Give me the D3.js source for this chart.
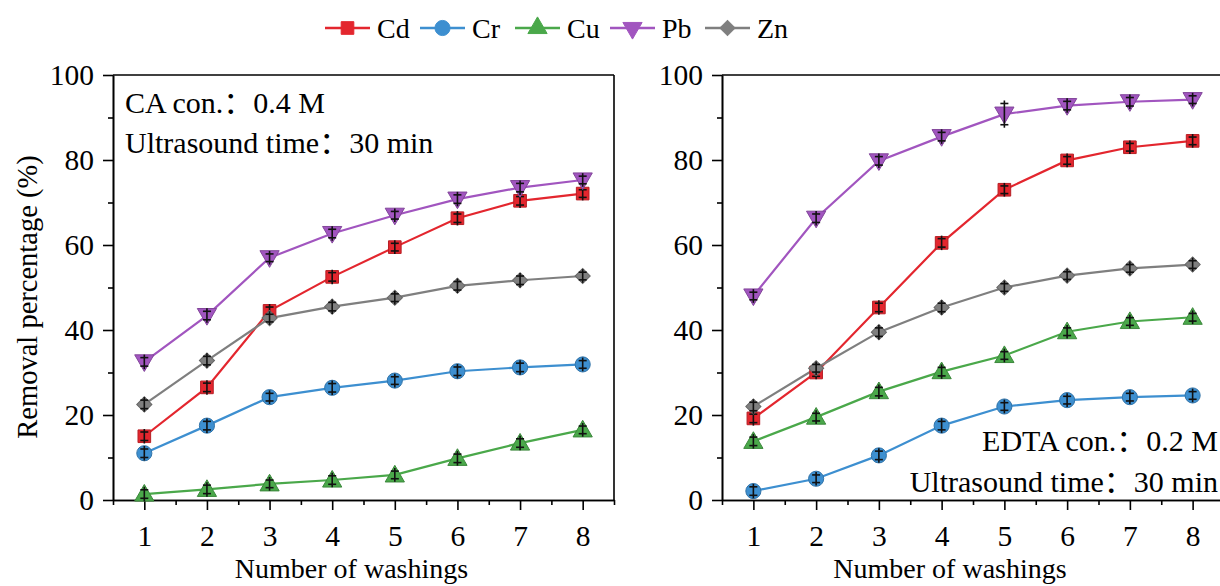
<!DOCTYPE html>
<html>
<head>
<meta charset="utf-8">
<script src="https://cdn.jsdelivr.net/npm/d3@7"></script>
<style>
  body { margin: 0; background: #fff; }
  text { font-family: "Liberation Serif", "Noto Sans CJK SC", serif; fill: #000; }
</style>
</head>
<body>
<svg id="chart" width="1220" height="586"></svg>
<script>
// washings on x axis
var washings = [1, 2, 3, 4, 5, 6, 7, 8];
var metals = ["Cd", "Cr", "Cu", "Pb", "Zn"];
var colors = ["#e3262e", "#3d8fd0", "#4aa84a", "#a155bf", "#7f7f7f"];
var yTicks = [0, 20, 40, 60, 80, 100];

// CA washing (left)
var caCd = [15.0, 26.5, 44.5, 52.5, 59.5, 66.3, 70.4, 72.1];
var caCr = [11.0, 17.5, 24.2, 26.4, 28.1, 30.3, 31.2, 31.9];
var caCu = [1.4, 2.5, 3.8, 4.7, 5.9, 9.8, 13.4, 16.5];
var caPb = [32.5, 43.4, 57.0, 62.7, 67.0, 70.8, 73.5, 75.3];
var caZn = [22.5, 32.8, 42.8, 45.5, 47.6, 50.4, 51.7, 52.7];
var caErr = [1.0, 1.0, 0.9, 1.0, 0.9, 1.0, 1.0, 0.9];

// EDTA washing (right)
var edCd = [19.2, 30.0, 45.3, 60.5, 73.0, 79.9, 83.0, 84.5];
var edCr = [2.1, 5.0, 10.5, 17.5, 22.0, 23.5, 24.2, 24.6];
var edCu = [13.8, 19.5, 25.5, 30.2, 34.0, 39.6, 42.0, 43.0];
var edPb = [48.0, 66.3, 79.8, 85.5, 90.8, 92.8, 93.7, 94.2];
var edZn = [22.0, 31.0, 39.5, 45.3, 50.0, 52.8, 54.5, 55.4];
var edErr = [1.0, 0.9, 1.0, 1.0, 0.9, 0.9, 0.9, 0.9];
var edPbErr = [0.9, 1.0, 1.0, 1.0, 2.5, 1.0, 1.0, 0.9];

var svg = d3.select("#chart");
var height = { top: 75, bottom: 500 };

var panels = [
  { left: 113, right: 614, series: [caCd, caCr, caCu, caPb, caZn],
    errs: [caErr, caErr, caErr, caErr, caErr],
    notes: ["CA con.\uff1a0.4 M", "Ultrasound time\uff1a30 min"], noteAnchor: "start" },
  { left: 722, right: 1224, series: [edCd, edCr, edCu, edPb, edZn],
    errs: [edErr, edErr, edErr, edPbErr, edErr],
    notes: ["EDTA con.\uff1a0.2 M", "Ultrasound time\uff1a30 min"], noteAnchor: "end" }
];

function symbolFor(i) {
  var s = [d3.symbolSquare, d3.symbolCircle, d3.symbolTriangle, d3.symbolTriangle, d3.symbolSquare][i];
  var size = [160, 180, 160, 160, 115][i];
  return d3.symbol().type(s).size(size)();
}
function rotFor(i) {
  return i === 3 ? 180 : (i === 4 ? 45 : 0);
}

panels.forEach(function (p, pi) {
  var x = d3.scaleLinear().domain([0.5, 8.5]).range([p.left, p.right]);
  var y = d3.scaleLinear().domain([0, 100]).range([height.bottom, height.top]);
  var g = svg.append("g");

  // box lines top & right
  g.append("line").attr("x1", x(0.5)).attr("x2", x(8.5)).attr("y1", y(100)).attr("y2", y(100))
    .attr("stroke", "#000").attr("stroke-width", 1.6);
  g.append("line").attr("x1", x(8.5)).attr("x2", x(8.5)).attr("y1", y(100)).attr("y2", y(0))
    .attr("stroke", "#000").attr("stroke-width", 1.6);

  // x axis
  g.append("g").attr("transform", "translate(0," + y(0) + ")")
    .call(d3.axisBottom(x).tickValues(washings).tickSize(10).tickSizeOuter(0).tickPadding(15));
  g.append("g").attr("transform", "translate(0," + y(0) + ")")
    .call(d3.axisBottom(x).tickValues(d3.range(0.5, 9, 1)).tickSize(5).tickSizeOuter(0).tickFormat(""));

  // y axis
  g.append("g").attr("transform", "translate(" + x(0.5) + ",0)")
    .call(d3.axisLeft(y).tickValues(yTicks).tickSize(10).tickSizeOuter(0).tickPadding(9));
  g.append("g").attr("transform", "translate(" + x(0.5) + ",0)")
    .call(d3.axisLeft(y).tickValues(d3.range(10, 100, 20)).tickSize(5).tickSizeOuter(0).tickFormat(""));

  g.selectAll(".domain").attr("stroke", "#000").attr("stroke-width", 1.6);
  g.selectAll(".tick line").attr("stroke", "#000").attr("stroke-width", 1.6);
  g.selectAll(".tick text").style("font-family", "Liberation Serif").style("font-size", "29.5px").attr("fill", "#000");

  // x title
  g.append("text").attr("x", (x(0.5) + x(8.5)) / 2 - (pi === 0 ? 12 : 23)).attr("y", 578)
    .attr("text-anchor", "middle").style("font-size", "28px").text("Number of washings");

  // series
  var line = d3.line().x(function (d, i) { return x(washings[i]); }).y(function (d) { return y(d); });
  p.series.forEach(function (vals, si) {
    g.append("path").datum(vals).attr("d", line)
      .attr("fill", "none").attr("stroke", colors[si]).attr("stroke-width", 2.2);
  });
  p.series.forEach(function (vals, si) {
    var sg = g.append("g");
    sg.selectAll("path.m").data(vals).enter().append("path").attr("class", "m")
      .attr("d", symbolFor(si))
      .attr("transform", function (d, i) {
        var dy = si === 3 ? -1.5 : (si === 2 ? 1.5 : 0);
        return "translate(" + x(washings[i]) + "," + (y(d) + dy) + ") rotate(" + rotFor(si) + ")";
      })
      .attr("fill", colors[si]).attr("stroke", d3.color(colors[si]).darker(0.6)).attr("stroke-width", 1);
    // error bars
    var err = p.errs[si];
    vals.forEach(function (d, i) {
      var cx = x(washings[i]);
      var y1 = y(d + err[i]), y2 = y(d - err[i]);
      sg.append("line").attr("x1", cx).attr("x2", cx).attr("y1", y1 - 3).attr("y2", y2 + 3)
        .attr("stroke", "#111").attr("stroke-width", 1.6);
      [y1, y2].forEach(function (yy) {
        sg.append("line").attr("x1", cx - 4).attr("x2", cx + 4).attr("y1", yy).attr("y2", yy)
          .attr("stroke", "#111").attr("stroke-width", 1.6);
      });
    });
  });

  // notes
  var nx = p.noteAnchor === "start" ? x(0.5) + 12 : 1218;
  var ny = p.noteAnchor === "start" ? [113, 153] : [451, 492];
  p.notes.forEach(function (t, ti) {
    g.append("text").attr("x", nx).attr("y", ny[ti]).attr("text-anchor", p.noteAnchor)
      .style("font-size", "30px").text(t);
  });
});

// y title
svg.append("text").attr("transform", "translate(37,297) rotate(-90)")
  .attr("text-anchor", "middle").style("font-size", "28.5px").text("Removal percentage (%)");

// legend
var lg = svg.append("g");
metals.forEach(function (m, i) {
  var lx = 325 + i * 95;
  lg.append("line").attr("x1", lx).attr("x2", lx + 45).attr("y1", 28).attr("y2", 28)
    .attr("stroke", colors[i]).attr("stroke-width", 2.5);
  lg.append("path").attr("d", symbolFor(i))
    .attr("transform", "translate(" + (lx + 22.5) + ",28) rotate(" + rotFor(i) + ")")
    .attr("fill", colors[i]).attr("stroke", colors[i]);
  lg.append("text").attr("x", lx + 52).attr("y", 38).style("font-size", "28px").text(m);
});
</script>
</body>
</html>
